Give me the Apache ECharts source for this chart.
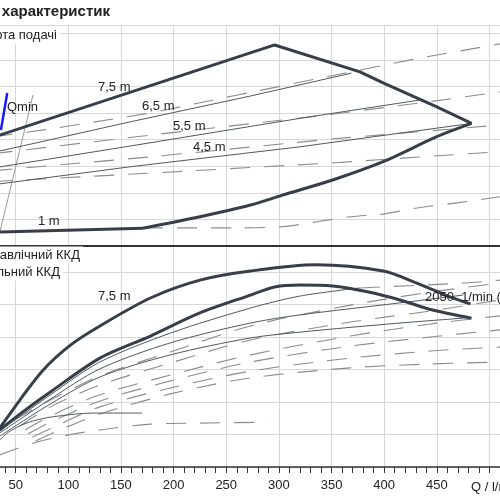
<!DOCTYPE html>
<html>
<head>
<meta charset="utf-8">
<script src="https://cdn.jsdelivr.net/npm/echarts@6/dist/echarts.min.js"></script>
<style>
  html, body { margin: 0; padding: 0; background: #fff; }
  #chart { width: 500px; height: 500px; }
</style>
</head>
<body>
<div id="chart"></div>
<script>
// Q axis, l/min
const qMin = 0, qMax = 510, qStep = 50;

// top panel: area of characteristics, [Q, H]
const envelopeTop = [[28,4.08],[296,7.56],[377,6.55],[399,6.13],[450,5.23],[483,4.61]];
const envelopeCurve = [[483,4.61],[450,4.11],[399,3.17],[351,2.48],[304,1.92],[273,1.54],[225,1.10],[171,0.67]];
const envelopeFlat = [[171,0.67],[28,0.52]];
const head65 = [[28,3.51],[159,4.67],[273,5.64],[369,6.50]];
const head55 = [[28,2.93],[159,3.76],[320,4.80],[434,5.49]];
const head45 = [[28,2.30],[159,2.98],[320,3.73],[483,4.61]];
const dashA = [[28,4.10],[83,4.40],[178,5.00],[256,5.64],[349,6.39],[434,7.07],[493,7.48],[510,7.60]];
const dashB = [[28,3.47],[178,4.17],[344,4.92],[434,5.38],[510,5.79]];
const dashC = [[28,2.83],[178,3.35],[349,4.02],[498,4.51],[510,4.55]];
const dashD = [[28,2.42],[178,2.74],[349,3.12],[510,3.55]];
const dashE = [[171,0.68],[263,0.68],[304,0.73],[336,0.91],[368,1.10],[399,1.20],[431,1.43],[469,1.62],[510,1.85]];
const qminLine = [[36,4.36],[42,5.75]];
const limitLine = [[30,-0.3],[66.5,5.68]];

// bottom panel: efficiency, [Q, %]
const effHydraulic = [[28,8.8],[35,12.0],[54,20.6],[76,29.8],[102,37.5],[130,43.4],[178,52.0],[225,57.5],[273,60.3],[335,62.2],[399,60.3],[431,56.6],[463,52.3],[482,50.2]];
const effTotal = [[28,9.0],[35,11.4],[59,17.5],[83,23.1],[130,33.5],[178,40.3],[225,47.4],[273,52.9],[296,55.4],[320,56.0],[351,55.7],[384,53.9],[415,51.4],[446,48.3],[483,45.8]];
const eff1 = [[35,11.1],[83,22.2],[130,32.3],[197,41.2],[273,48.9],[320,52.6],[377,55.1]];
const eff1Ext = [[377,55.1],[475,56.6],[510,57.5]];
const eff2 = [[35,10.5],[83,20.9],[130,30.2],[197,38.2],[273,44.3],[320,46.8],[415,50.5],[475,52.9]];
const eff3 = [[35,9.5],[83,19.4],[130,27.7],[197,34.5],[273,39.7],[320,41.5],[415,44.3],[475,45.8]];
const effLow = [[35,8.3],[45,11.1],[67,14.2],[99,16.0],[130,16.6],[170,16.6]];
const dashB1 = [[49,14.5],[83,20.6],[130,28.0],[197,35.4],[273,43.4],[368,49.8],[444,53.8],[510,56.6]];
const dashB2 = [[54,12.6],[83,18.5],[130,25.2],[197,32.0],[273,39.1],[368,44.6],[444,48.0],[510,51.4]];
const dashB3 = [[59,11.4],[83,15.7],[130,22.2],[197,28.3],[273,34.5],[368,40.3],[444,44.0],[510,46.5]];
const dashB4 = [[62,10.2],[83,13.8],[130,20.3],[197,26.5],[273,32.3],[368,37.2],[444,40.0],[510,42.2]];
const dashB5 = [[66,9.2],[92,13.2],[130,18.5],[197,24.3],[273,29.5],[368,33.5],[444,35.7],[510,36.9]];
const dashB6 = [[69,8.0],[92,11.4],[130,16.3],[197,22.5],[273,27.4],[368,30.5],[444,31.7],[510,32.3]];
const dashLow = [[35,3.7],[67,7.4],[99,9.8],[130,11.4],[178,13.2],[225,13.5],[290,13.8]];

const FONT = '"Liberation Sans", Arial, sans-serif';
const THICK = { color: '#363f49', width: 3 };
const THIN = { color: '#4f5862', width: 1 };
const DASH = { color: '#8c8c8c', width: 1.1, type: [20, 14] };
const GRID_LINE = { color: '#d8d8d8', width: 1 };

function line(data, panel, style, smooth, z) {
  return {
    type: 'line', xAxisIndex: panel, yAxisIndex: panel, data: data,
    symbol: 'none', smooth: smooth || 0, lineStyle: style,
    silent: true, z: z || 2
  };
}

function label(text, x, y, opts) {
  opts = opts || {};
  return {
    type: 'text', x: x, y: y, z: 100,
    style: Object.assign({
      text: text, fill: '#222', font: (opts.bold ? 'bold ' : '') + (opts.size || 13) + 'px ' + FONT,
      align: opts.align || 'left', verticalAlign: 'middle'
    }, opts.box ? { backgroundColor: '#fff', padding: [2, 3] } : {})
  };
}

const chart = echarts.init(document.getElementById('chart'));

chart.setOption({
  animation: false,
  backgroundColor: '#fff',
  grid: [
    // Q = 0 lies 37 px left of the picture, the reference is cropped
    { left: -37, right: 0, top: 25, height: 221, outerBoundsMode: 'none', containLabel: false },
    { left: -37, right: 0, top: 246, height: 221, outerBoundsMode: 'none', containLabel: false }
  ],
  xAxis: [
    {
      type: 'value', gridIndex: 0, position: 'top', min: qMin, max: qMax, interval: qStep,
      axisLine: { lineStyle: { color: '#707070', width: 1.5 } },
      axisTick: { show: false }, axisLabel: { show: false },
      splitLine: { lineStyle: GRID_LINE }
    },
    {
      type: 'value', gridIndex: 1, position: 'bottom', min: qMin, max: qMax, interval: qStep,
      axisLine: { lineStyle: { color: '#333', width: 1.5 } },
      axisTick: { show: true, inside: false, length: 6, lineStyle: { color: '#333' } },
      minorTick: { show: true, splitNumber: 5, length: 6, lineStyle: { color: '#333' } },
      axisLabel: {
        margin: 12, fontSize: 13, color: '#222', fontFamily: FONT,
        formatter: v => (v % 50 === 0 && v > 0 && v < 500) ? String(v) : ''
      },
      splitLine: { lineStyle: GRID_LINE }
    },
    {
      type: 'value', gridIndex: 1, position: 'top', min: qMin, max: qMax, interval: qStep,
      axisLine: { lineStyle: { color: '#333', width: 2 } },
      axisTick: { show: false }, axisLabel: { show: false }, splitLine: { show: false }
    }
  ],
  yAxis: [
    {
      type: 'value', gridIndex: 0, min: 0, max: 8.31, interval: 1,
      axisLine: { show: false }, axisTick: { show: false }, axisLabel: { show: false },
      splitLine: { lineStyle: GRID_LINE }
    },
    {
      type: 'value', gridIndex: 1, min: 0, max: 68, interval: 10,
      axisLine: { show: false }, axisTick: { show: false }, axisLabel: { show: false },
      splitLine: { lineStyle: GRID_LINE }
    }
  ],
  series: [
    // top panel
    line(dashA, 0, DASH),
    line(dashB, 0, DASH),
    line(dashC, 0, DASH),
    line(dashD, 0, DASH),
    line(dashE, 0, DASH, 0.3),
    line(limitLine, 0, { color: '#9a9a9a', width: 1 }),
    line(head65, 0, THIN),
    line(head55, 0, THIN),
    line(head45, 0, THIN),
    line(envelopeTop, 0, THICK, 0, 5),
    line(envelopeCurve, 0, THICK, 0.3, 5),
    line(envelopeFlat, 0, THICK, 0, 5),
    line(qminLine, 0, { color: '#1a1aff', width: 2.5 }, 0, 6),
    // bottom panel
    line(dashB1, 1, DASH, 0.3),
    line(dashB2, 1, DASH, 0.3),
    line(dashB3, 1, DASH, 0.3),
    line(dashB4, 1, DASH, 0.3),
    line(dashB5, 1, DASH, 0.3),
    line(dashB6, 1, DASH, 0.3),
    line(dashLow, 1, DASH, 0.3),
    line(eff1Ext, 1, DASH, 0.3),
    line(effLow, 1, THIN, 0.4),
    line(eff1, 1, THIN, 0.3),
    line(eff2, 1, THIN, 0.3),
    line(eff3, 1, THIN, 0.3),
    line(effHydraulic, 1, THICK, 0.3, 5),
    line(effTotal, 1, THICK, 0.3, 5)
  ],
  graphic: [
    label('Області характеристик', 110, 12, { bold: true, size: 15, align: 'right' }),
    label('Висота подачі', 60, 35, { align: 'right', box: true }),
    label('Qmin', 7, 107),
    label('7,5 m', 98, 87),
    label('6,5 m', 142, 106),
    label('5,5 m', 173, 126),
    label('4,5 m', 193, 147),
    label('1 m', 38, 221),
    label('Гідравлічний ККД', 83, 255, { align: 'right', box: true }),
    label('Загальний ККД', 63, 272, { align: 'right', box: true }),
    label('7,5 m', 98, 296),
    label('2050  1/min (', 425, 297),
    label('Q / l/min', 471, 487)
  ]
});
</script>
</body>
</html>
